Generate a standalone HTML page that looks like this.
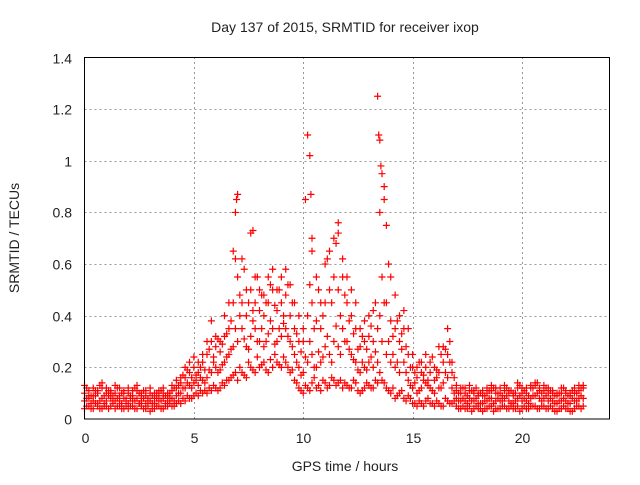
<!DOCTYPE html>
<html><head><meta charset="utf-8"><style>
body{margin:0;background:#fff;}
svg text{font-family:"Liberation Sans",sans-serif;font-size:14px;fill:#222;}
</style></head><body>
<svg id="chart" width="640" height="480" xmlns="http://www.w3.org/2000/svg">
<text x="345" y="32" text-anchor="middle">Day 137 of 2015, SRMTID for receiver ixop</text>
<text x="345" y="471" text-anchor="middle">GPS time / hours</text>
<text transform="translate(19,238) rotate(-90)" text-anchor="middle">SRMTID / TECUs</text>
<g id="grid"></g>
<g id="ticks"></g>
<g id="points"></g>
<rect x="84.5" y="57.5" width="525" height="361.5" fill="none" stroke="#000" stroke-width="1"/>
</svg>
<script>
const xTicks=[0,5,10,15,20];
const yTicks=[0,0.2,0.4,0.6,0.8,1,1.2,1.4];
const yTickLabels=["0","0.2","0.4","0.6","0.8","1","1.2","1.4"];
const times=[0,0.2,0.4,0.6,0.8,1,1.2,1.4,1.6,1.8,2,2.2,2.4,2.6,2.8,3,3.2,3.4,3.6,3.8,4,4.2,4.4,4.6,4.8,5,5.2,5.4,5.6,5.8,6,6.2,6.4,6.6,6.8,7,7.2,7.4,7.6,7.8,8,8.2,8.4,8.6,8.8,9,9.2,9.4,9.6,9.8,10,10.2,10.4,10.6,10.8,11,11.2,11.4,11.6,11.8,12,12.2,12.4,12.6,12.8,13,13.2,13.4,13.6,13.8,14,14.2,14.4,14.6,14.8,15,15.2,15.4,15.6,15.8,16,16.2,16.4,16.6,16.8,17,17.2,17.4,17.6,17.8,18,18.2,18.4,18.6,18.8,19,19.2,19.4,19.6,19.8,20,20.2,20.4,20.6,20.8,21,21.2,21.4,21.6,21.8,22,22.2,22.4,22.6,22.8];
const seriesLow=[.04,.05,.04,.05,.04,.05,.05,.04,.05,.04,.04,.05,.04,.05,.04,.03,.04,.05,.04,.05,.05,.06,.06,.07,.08,.09,.09,.10,.10,.11,.12,.12,.13,.15,.17,.15,.18,.16,.20,.18,.20,.22,.18,.20,.22,.20,.22,.18,.15,.12,.10,.12,.14,.12,.11,.14,.13,.15,.14,.12,.13,.12,.14,.10,.12,.13,.12,.14,.15,.12,.10,.08,.10,.08,.09,.06,.05,.06,.07,.06,.05,.06,.05,.07,.06,.05,.04,.04,.05,.04,.04,.03,.04,.05,.04,.04,.05,.04,.04,.05,.04,.04,.05,.05,.04,.05,.04,.04,.03,.04,.04,.03,.04,.05,.05];
const seriesMid=[.07,.08,.07,.06,.08,.07,.08,.07,.07,.08,.06,.07,.08,.07,.06,.07,.06,.07,.08,.07,.08,.09,.10,.12,.13,.14,.13,.15,.16,.18,.20,.19,.22,.25,.28,.30,.35,.28,.32,.35,.30,.28,.33,.35,.30,.32,.35,.30,.25,.20,.18,.22,.25,.20,.22,.28,.25,.30,.28,.35,.30,.25,.22,.18,.20,.22,.20,.22,.30,.25,.22,.20,.18,.22,.15,.12,.10,.12,.14,.12,.10,.12,.14,.16,.12,.08,.07,.07,.08,.07,.06,.06,.07,.08,.07,.07,.08,.07,.06,.08,.07,.07,.08,.09,.08,.08,.07,.07,.06,.07,.07,.06,.07,.08,.08];
const seriesHigh=[.10,.11,.09,.10,.12,.10,.11,.10,.09,.11,.10,.09,.11,.10,.09,.10,.08,.09,.10,.09,.11,.12,.14,.16,.18,.20,.18,.22,.25,.30,.28,.26,.32,.35,.45,.55,.45,.40,.50,.45,.42,.40,.45,.50,.42,.45,.48,.40,.35,.30,.30,.40,.45,.38,.35,.45,.50,.55,.50,.55,.45,.40,.35,.28,.30,.32,.30,.35,.55,.45,.38,.35,.30,.35,.25,.20,.16,.18,.20,.18,.15,.18,.22,.25,.18,.11,.10,.10,.11,.10,.09,.09,.10,.11,.10,.10,.11,.10,.09,.12,.10,.10,.12,.13,.11,.11,.10,.10,.09,.10,.10,.09,.10,.11,.12];
const seriesTop=[.13,.09,.12,.11,.14,.12,.10,.13,.12,.10,.12,.11,.13,.09,.11,.12,.10,.11,.12,.10,.13,.15,.16,.20,.22,.24,.22,.25,.30,.38,.32,.30,.40,.45,.65,.87,.62,.50,.72,.55,.50,.48,.55,.58,.50,.55,.58,.52,.45,.40,.35,1.10,.65,.55,.45,.60,.65,.70,.76,.62,.55,.50,.45,.35,.38,.40,.42,1.25,.95,.75,.55,.48,.40,.42,.35,.25,.20,.22,.25,.22,.20,.28,.28,.35,.22,.13,.12,.12,.13,.11,.10,.11,.12,.13,.12,.12,.13,.11,.10,.14,.12,.12,.13,.14,.12,.13,.12,.11,.10,.12,.11,.10,.12,.13,.13];
const times2=[0.1,0.3,0.5,0.7,0.9,1.1,1.3,1.5,1.7,1.9,2.1,2.3,2.5,2.7,2.9,3.1,3.3,3.5,3.7,3.9,4.1,4.3,4.5,4.7,4.9,5.1,5.3,5.5,5.7,5.9,6.1,6.3,6.5,6.7,6.9,7.1,7.3,7.5,7.7,7.9,8.1,8.3,8.5,8.7,8.9,9.1,9.3,9.5,9.7,9.9,10.1,10.3,10.5,10.7,10.9,11.1,11.3,11.5,11.7,11.9,12.1,12.3,12.5,12.7,12.9,13.1,13.3,13.5,13.7,13.9,14.1,14.3,14.5,14.7,14.9,15.1,15.3,15.5,15.7,15.9,16.1,16.3,16.5,16.7,16.9,17.1,17.3,17.5,17.7,17.9,18.1,18.3,18.5,18.7,18.9,19.1,19.3,19.5,19.7,19.9,20.1,20.3,20.5,20.7,20.9,21.1,21.3,21.5,21.7,21.9,22.1,22.3,22.5,22.7];
const seriesLow2=[.05,.04,.06,.04,.05,.04,.06,.05,.04,.05,.05,.04,.06,.04,.05,.04,.05,.04,.05,.06,.05,.07,.08,.09,.08,.10,.11,.11,.12,.13,.11,.14,.15,.16,.18,.20,.17,.22,.19,.24,.21,.19,.23,.25,.21,.24,.20,.19,.14,.11,.13,.11,.16,.13,.15,.12,.16,.13,.15,.14,.12,.15,.11,.11,.14,.12,.15,.18,.14,.11,.12,.09,.11,.07,.08,.06,.07,.05,.08,.06,.07,.05,.08,.06,.07,.04,.05,.04,.03,.05,.04,.04,.05,.03,.04,.05,.04,.05,.04,.03,.05,.04,.05,.04,.05,.04,.05,.03,.04,.05,.04,.03,.05,.04];
const seriesMid2=[.08,.06,.09,.07,.06,.09,.07,.08,.06,.07,.08,.07,.06,.08,.07,.06,.08,.07,.06,.08,.07,.10,.12,.14,.12,.15,.16,.14,.19,.22,.18,.21,.24,.27,.35,.40,.31,.27,.38,.30,.35,.30,.38,.29,.35,.37,.32,.28,.22,.17,.24,.30,.20,.26,.24,.32,.22,.36,.25,.30,.27,.23,.19,.22,.19,.24,.26,.40,.45,.30,.25,.22,.27,.18,.13,.14,.11,.15,.13,.11,.16,.12,.18,.22,.10,.07,.08,.06,.07,.08,.06,.07,.08,.06,.08,.07,.09,.06,.07,.09,.08,.06,.09,.10,.07,.09,.08,.06,.07,.08,.06,.08,.07,.09];
const seriesHigh2=[.12,.09,.11,.13,.09,.11,.09,.12,.10,.08,.09,.12,.10,.11,.08,.09,.10,.11,.09,.10,.12,.13,.17,.19,.16,.17,.20,.19,.27,.24,.31,.29,.33,.38,.62,.48,.58,.45,.42,.55,.48,.45,.52,.44,.50,.40,.52,.45,.33,.26,.85,.52,.35,.50,.40,.62,.45,.68,.40,.48,.38,.33,.27,.32,.27,.36,.45,.80,.85,.60,.32,.38,.33,.28,.20,.18,.22,.17,.15,.24,.19,.25,.27,.30,.16,.10,.12,.09,.11,.12,.10,.09,.11,.12,.10,.09,.12,.11,.10,.13,.11,.09,.12,.14,.10,.12,.11,.09,.10,.12,.09,.11,.10,.12];
const spikeTimes=[6.95,6.9,10.3,10.35,10.4,13.45,13.5,13.55,13.7,11.6,7.7];
const spikeValues=[0.85,0.80,1.02,0.87,0.70,1.10,1.08,0.98,0.90,0.72,0.73];

const X0=84.5,X1=609.5,Y0=419,Y1=57.5;
function xs(t){return X0+t*(X1-X0)/24;}
function ys(v){return Y0-v*(Y0-Y1)/1.4;}
const NS="http://www.w3.org/2000/svg";
const grid=document.getElementById('grid'),ticks=document.getElementById('ticks'),pts=document.getElementById('points');
function el(tag,attrs,parent){const e=document.createElementNS(NS,tag);for(const k in attrs)e.setAttribute(k,attrs[k]);parent.appendChild(e);return e;}
yTicks.forEach((v,i)=>{
  const y=Math.round(ys(v))+0.5;
  if(i>0&&i<yTicks.length-1){const g=el('line',{x1:X0,x2:X1,y1:y,y2:y,stroke:'#999','stroke-dasharray':'2,3'},grid);
  
  }
  const t=el('text',{x:72,y:y+5,'text-anchor':'end'},ticks);t.textContent=yTickLabels[i];
  
  
});
xTicks.forEach(v=>{
  const x=Math.round(xs(v))+0.5;
  if(v>0){const g=el('line',{x1:x,x2:x,y1:Y0,y2:Y1,stroke:'#999','stroke-dasharray':'2,3'},grid);
  
  }
  const t=el('text',{x:x,y:443,'text-anchor':'middle'},ticks);t.textContent=String(v);
  
  
});
function plus(t,v){
  const x=xs(t),y=ys(v);
  const p=el('path',{d:`M${x-3.5} ${y}h7M${x} ${y-3.5}v7`,stroke:'#f00','stroke-width':1.2,fill:'none'},pts);
  
  
}
[seriesLow,seriesMid,seriesHigh,seriesTop].forEach(s=>s.forEach((v,i)=>plus(times[i],v)));
[seriesLow2,seriesMid2,seriesHigh2].forEach(s=>s.forEach((v,i)=>plus(times2[i],v)));
spikeTimes.forEach((t,i)=>plus(t,spikeValues[i]));
</script>
</body></html>
